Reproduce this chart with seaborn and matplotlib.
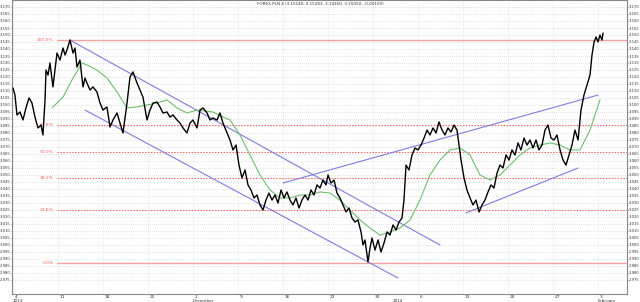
import numpy as np
import pandas as pd
import matplotlib
matplotlib.use("Agg")
import matplotlib.pyplot as plt
import matplotlib.transforms as mtrans
import seaborn as sns

# ---- data (time in trading days from 4 Nov 2013, price in PLN) ----
price_t = [0.00, 0.22, 0.44, 0.78, 1.11, 1.44, 1.78, 2.11, 2.44, 2.78, 3.11, 3.33, 3.56, 3.67, 3.89,
           4.11, 4.44, 4.67, 4.89, 5.22, 5.56, 5.78, 6.00, 6.33, 6.67, 6.89, 7.11, 7.44, 7.78, 8.00,
           8.22, 8.56, 8.89, 9.33, 9.67, 10.00, 10.44, 10.78, 11.11, 11.56, 11.89, 12.22, 12.67, 13.00,
           13.33, 13.78, 14.11, 14.44, 14.89, 15.22, 15.56, 16.00, 16.33, 16.67, 17.11, 17.44, 17.78,
           18.22, 18.56, 18.89, 19.33, 19.67, 20.00, 20.44, 20.78, 21.11, 21.56, 21.89, 22.22, 22.67,
           23.00, 23.33, 23.78, 24.11, 24.44, 24.78, 25.11, 25.44, 25.78, 26.11, 26.44, 26.78, 27.11,
           27.44, 27.78, 28.11, 28.44, 28.78, 29.11, 29.44, 29.78, 30.11, 30.44, 30.78, 31.11, 31.44,
           31.78, 32.11, 32.44, 32.78, 33.11, 33.44, 33.78, 34.11, 34.44, 34.78, 35.00, 35.33, 35.67,
           36.00, 36.33, 36.67, 37.00, 37.33, 37.67, 38.00, 38.33, 38.67, 38.89, 39.11, 39.44, 39.67,
           39.89, 40.22, 40.56, 40.89, 41.22, 41.56, 41.89, 42.22, 42.56, 42.89, 43.22, 43.44, 43.67,
           44.00, 44.33, 44.67, 45.00, 45.33, 45.67, 46.00, 46.33, 46.67, 47.00, 47.33, 47.67, 48.00,
           48.33, 48.67, 49.00, 49.33, 49.56, 49.78, 50.11, 50.44, 50.78, 51.11, 51.44, 51.78, 52.11,
           52.44, 52.78, 53.11, 53.44, 53.78, 54.11, 54.44, 54.78, 55.11, 55.44, 55.78, 56.11, 56.44,
           56.78, 57.11, 57.44, 57.78, 58.11, 58.44, 58.78, 59.11, 59.44, 59.78, 60.11, 60.44, 60.78,
           61.11, 61.44, 61.78, 62.11, 62.44, 62.78, 63.11, 63.44, 63.78, 64.11, 64.33, 64.56, 64.78,
           65.00, 65.22, 65.44, 65.56]
price_v = [3.1121, 3.1071, 3.0929, 3.0950, 3.0893, 3.0979, 3.1050, 3.1014, 3.0914, 3.0836, 3.0857,
           3.0786, 3.1036, 3.1250, 3.1214, 3.1300, 3.1129, 3.1250, 3.1371, 3.1321, 3.1407, 3.1357,
           3.1393, 3.1464, 3.1371, 3.1407, 3.1271, 3.1321, 3.1129, 3.1193, 3.1157, 3.1107, 3.1129,
           3.1093, 3.1014, 3.0964, 3.0986, 3.0843, 3.0893, 3.0943, 3.0871, 3.0800, 3.1014, 3.1200,
           3.1236, 3.1157, 3.1107, 3.1057, 3.0893, 3.0964, 3.1014, 3.1021, 3.0986, 3.0943, 3.0950,
           3.0914, 3.0929, 3.0893, 3.0871, 3.0836, 3.0800, 3.0871, 3.0893, 3.0836, 3.0964, 3.0979,
           3.0943, 3.0893, 3.0907, 3.0893, 3.0943, 3.0871, 3.0800, 3.0750, 3.0679, 3.0714, 3.0571,
           3.0479, 3.0536, 3.0429, 3.0393, 3.0336, 3.0357, 3.0286, 3.0250, 3.0321, 3.0371, 3.0321,
           3.0357, 3.0300, 3.0393, 3.0336, 3.0379, 3.0321, 3.0286, 3.0336, 3.0264, 3.0321, 3.0357,
           3.0321, 3.0393, 3.0357, 3.0429, 3.0407, 3.0464, 3.0429, 3.0500, 3.0443, 3.0464, 3.0371,
           3.0336, 3.0286, 3.0236, 3.0264, 3.0193, 3.0164, 3.0179, 3.0093, 3.0000, 3.0036, 2.9879,
           2.9979, 3.0050, 2.9964, 3.0036, 2.9950, 3.0014, 3.0093, 3.0071, 3.0143, 3.0107, 3.0164,
           3.0193, 3.0321, 3.0571, 3.0536, 3.0643, 3.0693, 3.0679, 3.0714, 3.0764, 3.0821, 3.0786,
           3.0836, 3.0800, 3.0879, 3.0821, 3.0786, 3.0836, 3.0807, 3.0857, 3.0821, 3.0714, 3.0607,
           3.0479, 3.0393, 3.0336, 3.0286, 3.0321, 3.0236, 3.0286, 3.0321, 3.0379, 3.0429, 3.0407,
           3.0514, 3.0571, 3.0550, 3.0643, 3.0607, 3.0679, 3.0643, 3.0729, 3.0679, 3.0764, 3.0714,
           3.0750, 3.0693, 3.0750, 3.0679, 3.0714, 3.0821, 3.0857, 3.0764, 3.0750, 3.0786, 3.0679,
           3.0607, 3.0571, 3.0643, 3.0714, 3.0821, 3.0750, 3.0964, 3.1071, 3.1143, 3.1214, 3.1357,
           3.1450, 3.1486, 3.1450, 3.1500, 3.1464, 3.1514]

ma_t = [4.33, 5.56, 6.67, 7.67, 8.22, 9.33, 10.44, 11.56, 12.67, 13.78, 14.89, 16.00, 17.11, 18.22,
        19.33, 20.44, 22.22, 23.33, 24.11, 25.22, 26.33, 27.44, 28.56, 29.67, 30.78, 31.89, 33.00,
        34.11, 35.22, 36.33, 37.44, 38.56, 39.67, 40.78, 41.89, 43.00, 44.11, 45.22, 46.33, 47.44,
        48.56, 49.67, 50.78, 51.89, 53.00, 54.11, 55.22, 56.33, 57.44, 58.56, 59.67, 60.78, 61.89,
        63.00, 64.11, 65.22]
ma_v = [3.0979, 3.1057, 3.1193, 3.1300, 3.1286, 3.1250, 3.1193, 3.1093, 3.0979, 3.0986, 3.1000,
        3.1014, 3.1036, 3.0979, 3.0943, 3.0964, 3.0950, 3.0914, 3.0893, 3.0786, 3.0643, 3.0500,
        3.0393, 3.0336, 3.0336, 3.0357, 3.0357, 3.0379, 3.0371, 3.0321, 3.0250, 3.0179, 3.0121,
        3.0071, 3.0093, 3.0121, 3.0179, 3.0321, 3.0500, 3.0607, 3.0679, 3.0693, 3.0643, 3.0500,
        3.0464, 3.0500, 3.0571, 3.0643, 3.0693, 3.0714, 3.0729, 3.0714, 3.0679, 3.0679, 3.0821,
        3.1036]

# trend lines: (t0, v0, t1, v1)
trend_lines = [(6.33, 3.1464, 47.44, 3.0000),
               (8.00, 3.0964, 42.78, 2.9764),
               (30.00, 3.0443, 65.00, 3.1071),
               (50.33, 3.0229, 62.78, 3.0550)]

fib_high = 3.1464
fib_low = 2.9871
fib_levels = [1.0, 0.618, 0.5, 0.382, 0.236, 0.0]
fib_labels = ["100.0%", "61.8%", "50.0%", "38.2%", "23.6%", "0.0%"]
fib_start = 4.9

tick_days = [0, 5, 10, 15, 20, 25, 30, 35, 40, 45, 50, 55, 60, 65]
tick_labels = ["4", "11", "18", "25", "2", "9", "16", "23", "30", "6", "13", "20", "27", "3"]
period_labels = [(0, "2013"), (20, "December"), (42.2, "2014"), (65, "February")]

title = "FOREX.PLN 4 (3.15140, 3.15283, 3.14360, 3.15050, -0.00150)"

# ---- figure ----
sns.set_style("white")
plt.rcParams['font.family'] = ['DejaVu Sans']
fig = plt.figure(figsize=(6.4, 3.02), dpi=100)
ax = fig.add_axes([12 / 640, 8 / 302, 615 / 640, 294 / 302])

ax.set_xlim(-0.11, 68.22)
ax.set_ylim(2.965, 3.175)

# grid
yt = np.round(np.arange(2.975, 3.1701, 0.005), 3)
for v in yt:
    ax.axhline(v, color="#c8c8c8", lw=0.5, ls=(0, (1, 2)), zorder=0)
for d in tick_days:
    ax.axvline(d, color="#d0d0d0", lw=0.5, ls=(0, (1, 2)), zorder=0)

# fib lines
fib_color = "#ff5a5a"
for lev, lab in zip(fib_levels, fib_labels):
    val = fib_low + (fib_high - fib_low) * lev
    solid = lev in (0.0, 1.0)
    ax.plot([fib_start, 68.22], [val, val],
            color="#f7a0a0" if solid else fib_color,
            lw=1.0 if solid else 0.7, ls="-" if solid else (0, (1.5, 1.5)),
            zorder=1)
    ax.text(fib_start - 0.4, val, lab, color=fib_color, fontsize=3.2,
            ha="right", va="center")

# trend lines
for (t0, v0, t1, v1) in trend_lines:
    ax.plot([t0, t1], [v0, v1], color="#7c7ce0", lw=0.8, zorder=2)

# moving average and price
ma_df = pd.DataFrame({"t": ma_t, "v": ma_v})
pr_df = pd.DataFrame({"t": price_t, "v": price_v})
sns.lineplot(data=ma_df, x="t", y="v", ax=ax, color="#6cbf6c", lw=0.8, zorder=3)
sns.lineplot(data=pr_df, x="t", y="v", ax=ax, color="black", lw=1.0, zorder=4)

ax.set_xlabel("")
ax.set_ylabel("")

# y axis on both sides
ax.set_yticks(yt)
ax.set_yticklabels([f"{v:.3f}" for v in yt])
ax.tick_params(axis="y", which="both", labelsize=2.7, length=1.0, width=0.4,
               left=True, right=True, labelleft=True, labelright=True,
               pad=0.4, colors="#333333")

# x axis
ax.set_xticks(tick_days)
ax.set_xticklabels(tick_labels)
ax.tick_params(axis="x", labelsize=3.2, length=4, width=0.8, pad=-3.5,
               direction="out", colors="#333333")
for lbl in ax.get_xticklabels():
    lbl.set_horizontalalignment("left")
    lbl.set_transform(lbl.get_transform() + mtrans.ScaledTranslation(1.2 / 72, 0, fig.dpi_scale_trans))
for d, lab in period_labels:
    ax.text(d, -0.016, lab, transform=ax.get_xaxis_transform(), fontsize=3.0,
            ha="left", va="top", color="#333333")

for s in ax.spines.values():
    s.set_color("#888888")
    s.set_linewidth(0.8)

fig.text(0.5, 0.995, title, fontsize=3.0, ha="center", va="top", color="#333333")

fig.savefig("out.png", dpi=100, facecolor="white")
